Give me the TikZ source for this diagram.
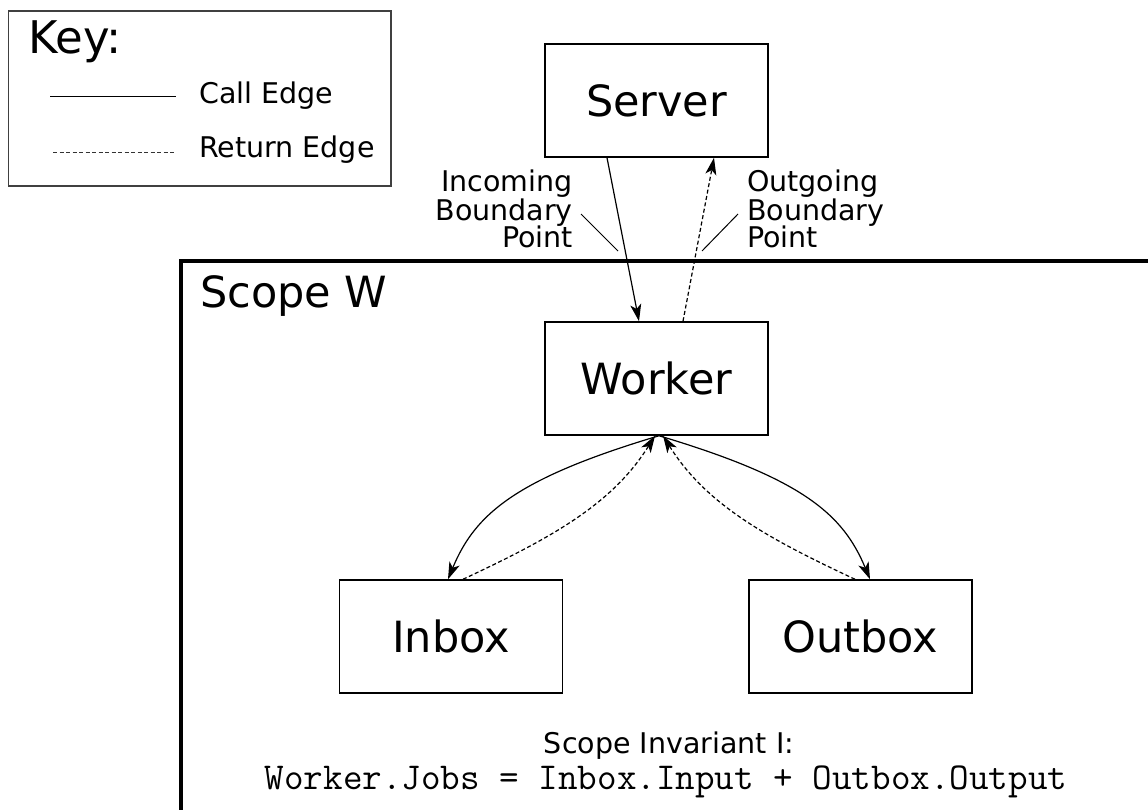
\documentclass[tikz,border=0pt]{standalone}
\usepackage{fontspec}
\setmainfont{DejaVu Sans}
\usetikzlibrary{arrows.meta}

\begin{document}
\begin{tikzpicture}[x=1pt,y=1pt,
  box/.style={draw, line width=1.5pt, minimum width=223pt, minimum height=113pt,
    inner sep=0pt, font=\fontsize{43}{43}\selectfont},
  call/.style={line width=1.2pt, -{Stealth[length=17pt,width=11pt,inset=4.5pt]}},
  ret/.style={call, dash pattern=on 4pt off 2.5pt},
  lbl/.style={font=\fontsize{28.5}{28}\selectfont, inner sep=0pt},
  bigtext/.style={font=\fontsize{43}{43}\selectfont, inner sep=0pt},
  leader/.style={line width=1pt}]
\clip (0,0) rectangle (1148,-810);
\fill[white] (0,0) rectangle (1148,-810);

% legend
\draw[line width=1.2pt, black!75] (8.5,-11) rectangle (391,-186);
\node[bigtext, anchor=base west, font=\fontsize{45}{45}\selectfont] (keytitle) at (28,-54) {Key:};
\node[lbl, anchor=base west] (callkey) at (199,-104) {Call Edge};
\node[lbl, anchor=base west] (retkey) at (199,-158) {Return Edge};
\coordinate (ckA) at (50,-97);
\coordinate (ckB) at (176,-97);
\coordinate (rkA) at (53,-153);
\coordinate (rkB) at (176,-153);
\draw[line width=1pt] (ckA) -- (ckB);
\draw[line width=1pt, black!80, dash pattern=on 4pt off 2.5pt] (rkA) -- (rkB);

% scope boundary
\draw[line width=4pt] (181,-830) |- (1170,-261);
\node[bigtext, anchor=base west] (scopetitle) at (200,-307) {Scope W};

% components
\node[box] (server) at (656.5,-100.5) {Server};
\node[box] (worker) at (656.5,-378.5) {Worker};
\node[box] (inbox)  at (451,-636.5)   {Inbox};
\node[box] (outbox) at (860.5,-636.5) {Outbox};

% edges across the boundary
\draw[call] ([xshift=-49.5pt]server.south) -- ([xshift=-17.5pt]worker.north);
\draw[ret]  ([xshift=26.5pt]worker.north) -- ([xshift=57.5pt]server.south);

% edges inside the scope
\draw[call] ([xshift=2.5pt]worker.south) .. controls +(-144,-43) and +(27,65) .. ([xshift=-3pt]inbox.north);
\draw[ret]  ([xshift=12pt]inbox.north) .. controls +(90.6,42.3) and +(-42.4,-67.8) .. ([xshift=-1.5pt]worker.south);
\draw[call] ([xshift=2.5pt]worker.south) .. controls +(144,-43) and +(-27,65) .. ([xshift=9.5pt]outbox.north);
\draw[ret]  ([xshift=-5.5pt]outbox.north) .. controls +(-90.6,42.3) and +(42.4,-67.8) .. ([xshift=6.5pt]worker.south);

% boundary point labels
\node[lbl, align=right, anchor=base east] (inlbl) at (573,-248) {Incoming\\Boundary\\Point};
\node[lbl, align=left, anchor=base west] (outlbl) at (747,-248) {Outgoing\\Boundary\\Point};
\coordinate (inA) at (581,-214);
\coordinate (inB) at (618,-251);
\coordinate (outA) at (738,-214);
\coordinate (outB) at (702,-251);
\draw[leader] (inA) -- (inB);
\draw[leader] (outA) -- (outB);

% invariant
\node[lbl, anchor=base] (invtitle) at (669,-753) {Scope Invariant I:};
\node[anchor=base, inner sep=0pt, font=\ttfamily\fontsize{38}{38}\selectfont] (invexpr)
  at (666,-789) {Worker.Jobs = Inbox.Input + Outbox.Output};
\end{tikzpicture}
\end{document}
